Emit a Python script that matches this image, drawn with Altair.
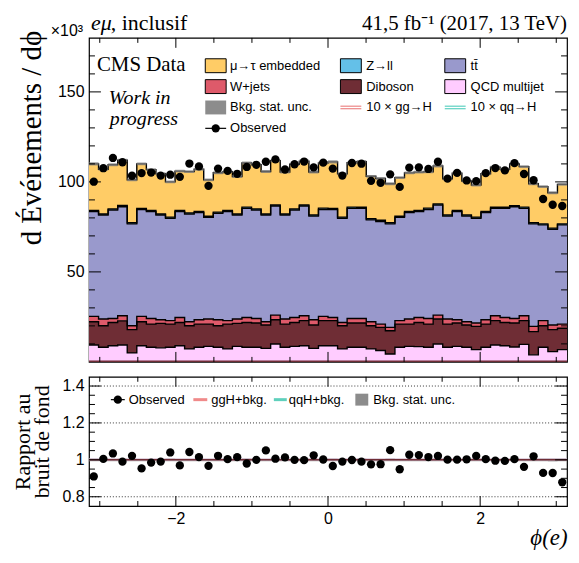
import numpy as np
import pandas as pd
import altair as alt

N_BINS = 50
PHI_LO, PHI_HI = -np.pi, np.pi

# ---- stacked backgrounds (x10^3 events per unit phi), bin by bin ----
qcd = [9.4, 8.1, 9.0, 9.4, 5.0, 9.0, 8.1, 7.8, 8.1, 9.0,
       7.2, 8.1, 8.6, 8.1, 7.2, 8.6, 8.1, 8.1, 7.5, 9.9,
       8.1, 8.6, 9.0, 7.5, 9.0, 9.0, 7.2, 8.1, 8.1, 7.2,
       6.3, 4.4, 8.1, 8.6, 8.5, 8.1, 9.9, 8.1, 8.6, 8.1,
       6.8, 8.1, 9.4, 9.0, 8.3, 9.7, 3.9, 8.1, 5.7, 6.8]
diboson = [12.9, 12.0, 12.9, 13.4, 12.9, 13.3, 12.9, 13.6, 12.9, 12.9,
           12.9, 12.9, 12.4, 12.0, 13.8, 12.8, 13.8, 13.5, 13.0, 13.5,
           12.9, 13.3, 13.9, 13.0, 13.9, 13.9, 12.9, 13.5, 13.5, 12.9,
           12.9, 12.9, 12.9, 12.4, 13.4, 12.9, 13.9, 12.9, 13.0, 12.4,
           12.9, 12.9, 13.5, 12.9, 13.3, 13.2, 12.9, 12.0, 12.2, 11.9]
wjets = [3.0, 3.7, 2.2, 2.8, 2.2, 3.0, 3.1, 2.0, 1.9, 2.8,
         2.2, 2.4, 2.8, 3.3, 1.9, 2.4, 2.8, 2.5, 1.8, 2.6,
         2.8, 2.8, 2.7, 2.9, 2.4, 1.8, 1.8, 2.5, 2.5, 2.2,
         1.8, 1.9, 1.9, 2.8, 2.8, 3.1, 2.2, 2.8, 1.8, 1.8,
         1.9, 2.4, 2.7, 2.8, 2.5, 2.7, 2.9, 2.8, 2.6, 2.3]
ttbar = [58.2, 57.8, 60.3, 60.6, 56.6, 59.4, 59.4, 58.2, 56.9, 58.8,
         59.9, 59.5, 56.5, 59.2, 60.6, 57.8, 60.6, 60.3, 59.3, 60.6,
         57.8, 59.7, 61.0, 57.6, 59.4, 60.0, 57.9, 61.2, 61.2, 56.6,
         56.9, 57.5, 57.4, 59.1, 58.8, 60.6, 61.1, 57.2, 60.1, 58.7,
         58.2, 59.5, 59.7, 60.6, 62.1, 59.7, 57.0, 53.2, 53.2, 55.1]
zll = [0.7, 0.6, 0.6, 0.7, 0.6, 0.6, 0.7, 0.6, 0.6, 0.6,
       0.6, 0.7, 0.6, 0.6, 0.6, 0.6, 0.7, 0.6, 0.6, 0.6,
       0.6, 0.6, 0.6, 0.6, 0.7, 0.6, 0.6, 0.7, 0.6, 0.6,
       0.8, 0.6, 0.6, 0.7, 0.7, 0.7, 0.6, 0.6, 0.6, 0.6,
       0.6, 0.7, 0.6, 0.6, 0.6, 0.7, 0.6, 0.6, 0.6, 0.6]
embedded = [25.8, 24.8, 24.5, 25.1, 23.9, 24.7, 22.6, 22.3, 19.6, 21.9,
            22.9, 23.4, 20.2, 21.9, 21.6, 20.8, 24.5, 24.5, 23.6, 24.6,
            23.3, 24.8, 24.3, 23.9, 25.1, 25.8, 24.1, 24.6, 25.3, 23.6,
            23.2, 21.7, 21.5, 21.4, 21.2, 20.2, 21.2, 20.1, 20.8, 18.9,
            17.9, 20.9, 22.3, 21.1, 23.2, 22.5, 21.7, 20.7, 19.7, 21.9]
observed = [100.1, 107.6, 113.3, 110.9, 103.4, 104.9, 105.2, 103.5, 104.0, 102.8,
            110.2, 108.6, 97.8, 107.4, 106.1, 104.5, 108.3, 109.5, 111.2, 112.5,
            106.9, 109.8, 111.3, 108.1, 110.7, 107.4, 103.5, 110.5, 110.1, 100.6,
            99.5, 104.2, 97.2, 107.9, 108.1, 107.2, 111.2, 101.8, 105.0, 100.8,
            100.4, 104.9, 107.7, 106.4, 110.4, 104.4, 100.9, 90.5, 87.3, 86.6]
bkg_unc = [0.9, 0.8, 0.8, 0.9, 0.8, 0.8, 0.8, 0.8, 0.8, 0.8,
           0.8, 0.8, 0.8, 0.8, 0.8, 0.8, 0.9, 0.8, 0.8, 0.9,
           0.8, 0.8, 0.9, 0.8, 0.8, 0.9, 0.8, 0.8, 0.9, 0.8,
           0.8, 0.8, 0.8, 0.8, 0.8, 0.8, 0.9, 0.8, 0.8, 0.8,
           0.8, 0.8, 0.8, 0.8, 0.9, 0.8, 0.8, 0.8, 0.8, 0.8]
ggh_x10 = [1.6, 1.5, 1.6, 1.6, 1.5, 1.6, 1.6, 1.5, 1.5, 1.6,
           1.6, 1.6, 1.5, 1.6, 1.6, 1.5, 1.6, 1.6, 1.5, 1.6,
           1.6, 1.6, 1.6, 1.5, 1.6, 1.6, 1.5, 1.6, 1.6, 1.5,
           1.5, 1.5, 1.6, 1.6, 1.6, 1.6, 1.6, 1.5, 1.6, 1.5,
           1.5, 1.6, 1.6, 1.6, 1.6, 1.6, 1.5, 1.5, 1.5, 1.5]
qqh_x10 = [0.4, 0.4, 0.4, 0.4, 0.4, 0.4, 0.4, 0.4, 0.4, 0.4,
           0.4, 0.4, 0.4, 0.4, 0.4, 0.4, 0.4, 0.4, 0.4, 0.4,
           0.4, 0.4, 0.4, 0.4, 0.4, 0.4, 0.4, 0.4, 0.4, 0.4,
           0.4, 0.4, 0.4, 0.4, 0.4, 0.4, 0.4, 0.4, 0.4, 0.4,
           0.4, 0.4, 0.4, 0.4, 0.4, 0.4, 0.4, 0.4, 0.4, 0.4]

proc_names = ["QCD multijet", "Diboson", "W+jets", "tt\u0304", "Z\u2192ll", "\u03bc\u2192\u03c4 embedded"]
proc_colors = ["#ffccff", "#6f2d35", "#de5a6a", "#9999cc", "#64c0e8", "#ffcc66"]
proc_values = [qcd, diboson, wjets, ttbar, zll, embedded]

# tick / grid positions
x_major = [-2, 0, 2]
x_minor = [-3, -2.5, -1.5, -1, -0.5, 0.5, 1, 1.5, 2.5, 3]
y_major = [50, 100, 150]
y_minor = [10, 20, 30, 40, 60, 70, 80, 90, 110, 120, 130, 140, 160, 170]
r_major = [0.8, 1.0, 1.2, 1.4]
r_minor = [0.85, 0.9, 0.95, 1.05, 1.1, 1.15, 1.25, 1.3, 1.35]
r_grid = [0.8, 1.0, 1.2, 1.4]

W, H_MAIN, H_RATIO = 481, 326, 130
SANS = "Liberation Sans"
SERIF = "Liberation Serif"

edges = np.linspace(PHI_LO, PHI_HI, N_BINS + 1)
centers = 0.5 * (edges[:-1] + edges[1:])


def step_rows(lo, hi, name):
    rows = []
    for j in range(N_BINS + 1):
        k = min(j, N_BINS - 1)
        rows.append({"x": float(edges[j]), "lo": float(lo[k]), "hi": float(hi[k]), "proc": name})
    return rows


rows = []
cum = np.zeros(N_BINS)
for name, vals in zip(proc_names, proc_values):
    lo = cum.copy()
    cum = cum + np.array(vals)
    rows += step_rows(lo, cum, name)
stack_df = pd.DataFrame(rows)
total = cum.copy()

unc = np.array(bkg_unc)
band_df = pd.DataFrame(step_rows(total - unc, total + unc, "unc"))
sig_df = pd.DataFrame(step_rows(np.zeros(N_BINS), np.array(ggh_x10), "ggH")
                      + step_rows(np.zeros(N_BINS), np.array(qqh_x10), "qqH"))
obs_df = pd.DataFrame({"x": centers, "y": observed, "r": np.array(observed) / total})
rband_df = pd.DataFrame(step_rows(1 - unc / total, 1 + unc / total, "unc"))
rsig_df = pd.DataFrame(step_rows(np.ones(N_BINS), 1 + np.array(ggh_x10) / 10 / total, "ggH")
                       + step_rows(np.ones(N_BINS), 1 + np.array(qqh_x10) / 10 / total, "qqH"))

xs = alt.Scale(domain=[PHI_LO, PHI_HI], nice=False, zero=False)
ys = alt.Scale(domain=[0, 180], nice=False, zero=False)
rs = alt.Scale(domain=[0.75, 1.45], nice=False, zero=False)
one = pd.DataFrame({"k": [0]})

AX_MAIN_X = alt.Axis(labels=False, ticks=False, domain=False, grid=False, title=None)
AX_MAIN_Y = alt.Axis(
    values=y_major, format="d", ticks=False, domain=False, grid=False,
    labelFont=SANS, labelFontSize=16, labelPadding=5, labelColor="black", title=None)
AX_RATIO_X = alt.Axis(
    values=x_major, ticks=False, domain=False, grid=False,
    labelFont=SANS, labelFontSize=16, labelPadding=5, labelColor="black",
    title="\u03d5(e)", titleFont=SERIF, titleFontSize=23, titleFontStyle="italic",
    titleFontWeight="normal", titleColor="black", titleAnchor="end", titlePadding=0)
AX_RATIO_Y = alt.Axis(
    values=r_major, format="~g", ticks=False, domain=False, grid=False,
    labelFont=SANS, labelFontSize=16, labelPadding=5, labelColor="black",
    title=["Rapport au", "bruit de fond"], titleFont=SERIF, titleFontSize=22,
    titleFontWeight="normal", titleColor="black", titleLineHeight=20, titlePadding=8)


def text_at(txt, x, y, size=13, font=SANS, style="normal", align="left", baseline="middle", angle=0):
    return alt.Chart(one).mark_text(text=txt, font=font, fontSize=size, fontStyle=style, angle=angle,
                                    align=align, baseline=baseline, color="black").encode(
        x=alt.value(x), y=alt.value(y))


def rect_at(x0, x1, y0, y1, fill, stroke="black"):
    kw = dict(fill=fill)
    if stroke:
        kw.update(stroke=stroke, strokeWidth=1)
    return alt.Chart(one).mark_rect(**kw).encode(
        x=alt.value(x0), x2=alt.value(x1), y=alt.value(y0), y2=alt.value(y1))


def hline_at(x0, x1, y, color, width=1.0):
    return alt.Chart(one).mark_rule(color=color, strokeWidth=width).encode(
        x=alt.value(x0), x2=alt.value(x1), y=alt.value(y))


def dot_at(x, y):
    return alt.Chart(one).mark_circle(size=70, color="black", opacity=1).encode(
        x=alt.value(x), y=alt.value(y))


def ticks(yscale, height, ymaj, ymin, ax_x, ax_y):
    out = []
    for vals, ln in ((x_major, 10), (x_minor, 5)):
        d = pd.DataFrame({"v": vals})
        out.append(alt.Chart(d).mark_rule(color="black", strokeWidth=1).encode(
            x=alt.X("v:Q", scale=xs, axis=ax_x), y=alt.value(0), y2=alt.value(ln)))
        out.append(alt.Chart(d).mark_rule(color="black", strokeWidth=1).encode(
            x=alt.X("v:Q", scale=xs, axis=ax_x), y=alt.value(height), y2=alt.value(height - ln)))
    for vals, ln in ((ymaj, 12), (ymin, 6)):
        d = pd.DataFrame({"v": vals})
        out.append(alt.Chart(d).mark_rule(color="black", strokeWidth=1).encode(
            y=alt.Y("v:Q", scale=yscale, axis=ax_y), x=alt.value(0), x2=alt.value(ln)))
        out.append(alt.Chart(d).mark_rule(color="black", strokeWidth=1).encode(
            y=alt.Y("v:Q", scale=yscale, axis=ax_y), x=alt.value(W), x2=alt.value(W - ln)))
    return out


# ---------------- main panel ----------------
mx = alt.X("x:Q", scale=xs, axis=AX_MAIN_X)
areas = alt.Chart(stack_df).mark_area(interpolate="step-after").encode(
    x=mx, y=alt.Y("hi:Q", scale=ys, axis=AX_MAIN_Y), y2="lo:Q",
    color=alt.Color("proc:N", scale=alt.Scale(domain=proc_names, range=proc_colors), legend=None),
)
outlines = alt.Chart(stack_df).mark_line(interpolate="step-after", color="black", strokeWidth=1.4).encode(
    x=mx, y=alt.Y("hi:Q", scale=ys, axis=AX_MAIN_Y), detail="proc:N")
band = alt.Chart(band_df).mark_area(interpolate="step-after", color="#808080", opacity=0.75).encode(
    x=mx, y=alt.Y("hi:Q", scale=ys, axis=AX_MAIN_Y), y2="lo:Q")
sig_lines = alt.Chart(sig_df).mark_line(interpolate="step-after", strokeWidth=1.5).encode(
    x=mx, y=alt.Y("hi:Q", scale=ys, axis=AX_MAIN_Y),
    color=alt.Color("proc:N", scale=alt.Scale(domain=["ggH", "qqH"], range=["#e86e6e", "#3cc8b4"]), legend=None))
points = alt.Chart(obs_df).mark_circle(size=70, color="black", opacity=1).encode(
    x=mx, y=alt.Y("y:Q", scale=ys, axis=AX_MAIN_Y))

main_text = [
    text_at("d \u00c9v\u00e9nements / d\u03d5", -57, -7, size=29, font=SERIF, align="right",
            baseline="middle", angle=270),
    text_at("\u00d710\u00b3", -6, -2, size=16, align="right", baseline="alphabetic"),
    text_at("e\u03bc", 2, -8, size=22, font=SERIF, style="italic", baseline="alphabetic"),
    text_at(", inclusif", 22, -8, size=22, font=SERIF, baseline="alphabetic"),
    text_at("41,5 fb\u207b\u00b9 (2017, 13 TeV)", W, -8, size=21, font=SERIF, align="right", baseline="alphabetic"),
    text_at("CMS Data", 8, 33, size=21, font=SERIF, baseline="alphabetic"),
    text_at("Work in", 20, 67, size=20, font=SERIF, style="italic", baseline="alphabetic"),
    text_at("progress", 21, 88, size=20, font=SERIF, style="italic", baseline="alphabetic"),
]

c_sw = [117, 253, 358]
c_tx = [142, 279, 384]
r_y = [28, 49, 70, 91]
legend = []
for (name, col, ci, ri) in [("\u03bc\u2192\u03c4 embedded", "#ffcc66", 0, 0), ("Z\u2192ll", "#64c0e8", 1, 0),
                            ("tt\u0304", "#9999cc", 2, 0), ("W+jets", "#de5a6a", 0, 1),
                            ("Diboson", "#6f2d35", 1, 1), ("QCD multijet", "#ffccff", 2, 1)]:
    legend.append(rect_at(c_sw[ci], c_sw[ci] + 21, r_y[ri] - 7, r_y[ri] + 7, col))
    legend.append(text_at(name, c_tx[ci], r_y[ri]))
legend.append(rect_at(c_sw[0], c_sw[0] + 21, r_y[2] - 7, r_y[2] + 7, "#8c8c8c", stroke=None))
legend.append(text_at("Bkg. stat. unc.", c_tx[0], r_y[2]))
for ci, col, lab in [(1, "#e86e6e", "10 \u00d7 gg\u2192H"), (2, "#3cc8b4", "10 \u00d7 qq\u2192H")]:
    legend.append(hline_at(c_sw[ci], c_sw[ci] + 21, r_y[2] - 1.3, col))
    legend.append(hline_at(c_sw[ci], c_sw[ci] + 21, r_y[2] + 1.3, col))
    legend.append(text_at(lab, c_tx[ci], r_y[2]))
legend.append(hline_at(c_sw[0], c_sw[0] + 21, r_y[3], "black", 1.2))
legend.append(dot_at(c_sw[0] + 10.5, r_y[3]))
legend.append(text_at("Observed", c_tx[0], r_y[3]))

main = alt.layer(areas, outlines, band, sig_lines, points,
                 *ticks(ys, H_MAIN, y_major, y_minor, AX_MAIN_X, AX_MAIN_Y),
                 *main_text, *legend).properties(width=W, height=H_MAIN)

# ---------------- ratio panel ----------------
rx = alt.X("x:Q", scale=xs, axis=AX_RATIO_X)
grid = alt.Chart(pd.DataFrame({"v": r_grid})).mark_rule(color="#333333", strokeWidth=1, strokeDash=[1, 2]).encode(
    y=alt.Y("v:Q", scale=rs, axis=AX_RATIO_Y), x=alt.value(0), x2=alt.value(W))
rband = alt.Chart(rband_df).mark_area(interpolate="step-after", color="#a0a0a0", opacity=0.9).encode(
    x=rx, y=alt.Y("hi:Q", scale=rs, axis=AX_RATIO_Y), y2="lo:Q")
rsig = alt.Chart(rsig_df).mark_line(interpolate="step-after", strokeWidth=1.5).encode(
    x=rx, y=alt.Y("hi:Q", scale=rs, axis=AX_RATIO_Y),
    color=alt.Color("proc:N", scale=alt.Scale(domain=["ggH", "qqH"], range=["#e86e6e", "#2aa890"]), legend=None))
rpoints = alt.Chart(obs_df).mark_circle(size=70, color="black", opacity=1).encode(
    x=rx, y=alt.Y("r:Q", scale=rs, axis=AX_RATIO_Y))

rl_y = 23
ratio_legend = [
    hline_at(22, 36, rl_y, "black", 1.2), dot_at(29, rl_y), text_at("Observed", 40, rl_y),
    hline_at(105, 119, rl_y, "#f08a8a", 3), text_at("ggH+bkg.", 123, rl_y),
    hline_at(186, 199, rl_y, "#5fd0bc", 3), text_at("qqH+bkg.", 201, rl_y),
    rect_at(268, 281, rl_y - 6, rl_y + 6, "#8c8c8c", stroke=None), text_at("Bkg. stat. unc.", 286, rl_y),
]

ratio = alt.layer(grid, rband, rsig, rpoints,
                  *ticks(rs, H_RATIO, r_major, r_minor, AX_RATIO_X, AX_RATIO_Y),
                  *ratio_legend).properties(width=W, height=H_RATIO)

chart = alt.vconcat(main, ratio, spacing=10).properties(
    padding={"left": 2.5, "top": 1.4, "right": 0, "bottom": 0},
    background="white",
).configure_view(stroke="black", strokeWidth=1.2)

chart.save("out.html", embed_options={"renderer": "svg", "actions": False})
